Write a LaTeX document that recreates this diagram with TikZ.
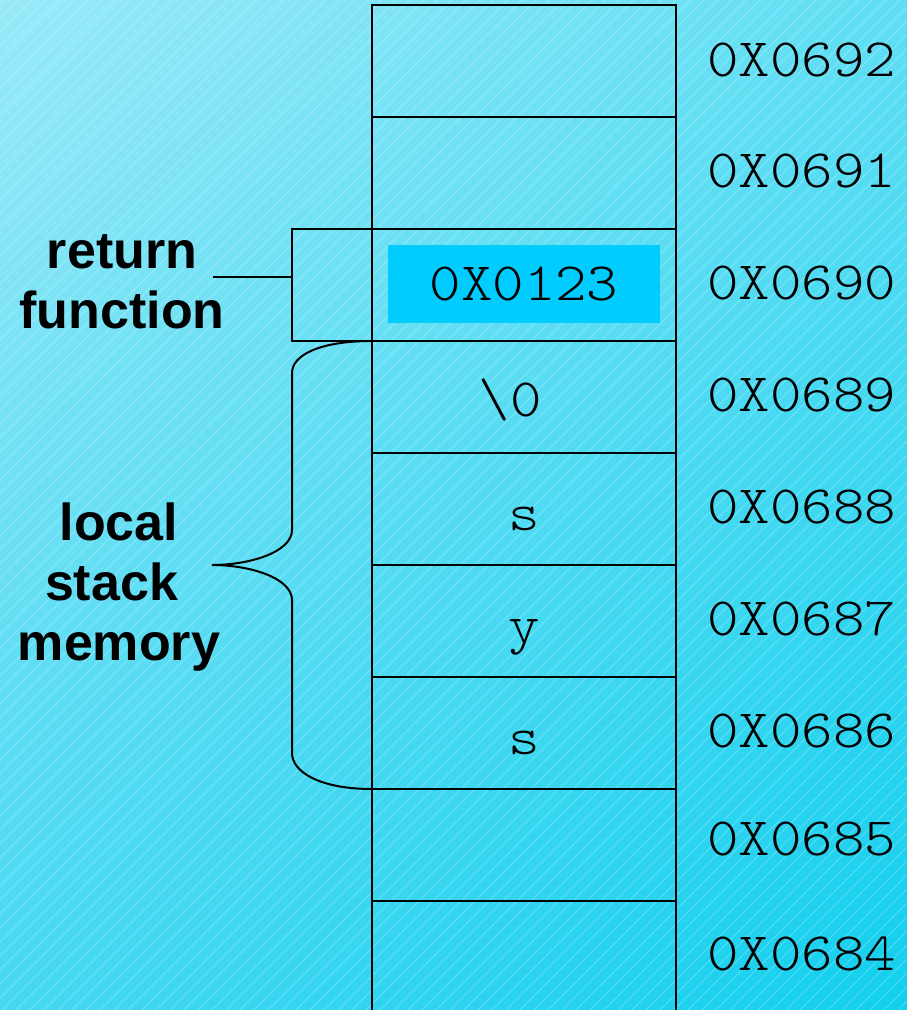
\documentclass[tikz,border=0pt]{standalone}
\usepackage{fontspec}
\usetikzlibrary{shadings}
\setmainfont{Liberation Sans}
\newfontfamily\monof[FakeStretch=1.11]{Latin Modern Mono Light}
\definecolor{bgTL}{RGB}{152,233,248}
\definecolor{bgTR}{RGB}{96,222,244}
\definecolor{bgBL}{RGB}{70,216,242}
\definecolor{bgBR}{RGB}{18,207,238}
\definecolor{hilite}{RGB}{0,204,255}
\begin{document}
\begin{tikzpicture}[x=1pt,y=-1pt,
  cell/.style={draw=black,line width=2.5pt,minimum width=304pt,minimum height=112pt,inner sep=0pt,outer sep=0pt,
    font=\monof\fontsize{54}{60}\selectfont},
  addr/.style={anchor=west,inner sep=0pt,font=\monof\fontsize{54}{60}\selectfont},
  lbl/.style={align=center,inner sep=0pt,font=\bfseries\fontsize{52}{60}\selectfont},
  conn/.style={draw=black,line width=2pt}]
\useasboundingbox (0,0) rectangle (907,1010);
\shade[upper left=bgTL,upper right=bgTR,lower left=bgBL,lower right=bgBR] (0,0) rectangle (907,1010);
\begin{scope}
\clip (0,0) rectangle (907,1010);
\foreach \i in {-1020,-1006,...,910}{
  \draw[white,opacity=0.25,line width=0.8pt] (\i,1010) -- (\i+1010,0);
}
\end{scope}
% return box
\node[draw=black,line width=2.5pt,minimum width=80pt,minimum height=112pt,inner sep=0pt,outer sep=0pt] (ret) at (332,285) {};
% cells
\node[cell] (c92) at (524,61) {};
\node[cell] (c91) at (524,173) {};
\node[cell] (c90) at (524,285) {};
\node[fill=hilite,minimum width=272pt,minimum height=78pt,inner sep=0pt,font=\monof\fontsize{54}{60}\selectfont] (val) at (524,284) {0X0123};
\node[cell] (c89) at (524,397) {};
\node[cell] (c88) at (524,509) {};
\node[cell] (c87) at (524,621) {};
\node[cell] (c86) at (524,733) {};
\node[cell] (c85) at (524,845) {};
\node[cell] (c84) at (524,957) {};
\node[font=\monof\fontsize{54}{60}\selectfont,inner sep=0pt] (t89) at (510,400) {\textbackslash0};
\node[font=\monof\fontsize{54}{60}\selectfont,inner sep=0pt,anchor=base] (t88) at (524,530) {s};
\node[font=\monof\fontsize{54}{60}\selectfont,inner sep=0pt,anchor=base] (t87) at (524,642) {y};
\node[font=\monof\fontsize{54}{60}\selectfont,inner sep=0pt,anchor=base] (t86) at (524,754) {s};
% addresses
\node[addr,anchor=base west] (a92) at (707,76) {0X0692};
\node[addr,anchor=base west] (a91) at (707,187) {0X0691};
\node[addr,anchor=base west] (a90) at (707,299) {0X0690};
\node[addr,anchor=base west] (a89) at (707,411) {0X0689};
\node[addr,anchor=base west] (a88) at (707,523) {0X0688};
\node[addr,anchor=base west] (a87) at (707,635) {0X0687};
\node[addr,anchor=base west] (a86) at (707,747) {0X0686};
\node[addr,anchor=base west] (a85) at (707,855) {0X0685};
\node[addr,anchor=base west] (a84) at (707,970) {0X0684};
% labels
\node[lbl] (rf) at (122,282) {return\\function};
\node[lbl] (lsm) at (119,587) {local\\stack\rule{15pt}{0pt}\\memory};
\coordinate (rl) at (213,277);
\draw[conn] (rl) -- (ret.west |- rl);
\coordinate (tip) at (212,565);
\draw[conn] (c89.north west) .. controls (320,341) and (292,355) .. (292,373) -- (292,530)
  .. controls (292,552) and (250,565) .. (tip)
  .. controls (250,565) and (292,578) .. (292,600) -- (292,753)
  .. controls (292,772) and (320,789) .. (c86.south west);
\end{tikzpicture}
\end{document}
